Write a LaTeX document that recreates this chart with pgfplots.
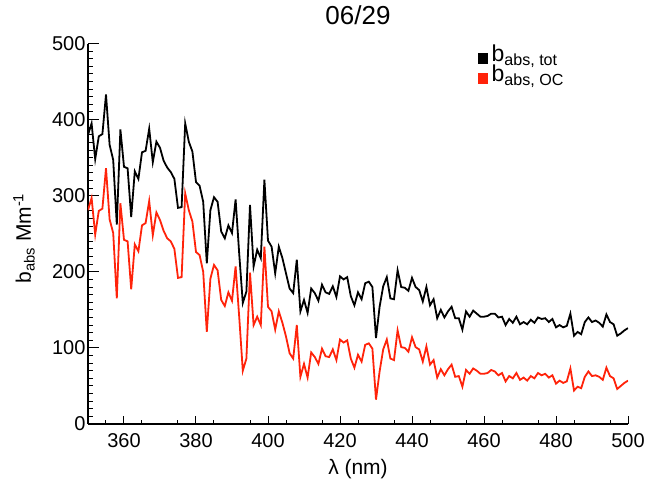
\documentclass[border=0pt]{standalone}
\usepackage{fontspec}
\setmainfont{Liberation Sans}
\usepackage{pgfplots}
\usepackage{pgfplotstable}
\pgfplotsset{compat=1.18}
\definecolor{idlred}{RGB}{255,35,10}
\pgfplotstableread{
x tot oc
350 380 281
351 395 297
352 348 249
353 378 280
354 381 283
355 433 336
356 367 269
357 347 251
358 262 165
359 387 290
360 338 242
361 336 240
362 272 177
363 332 236
364 322 227
365 357 261
366 359 264
367 388 293
368 344 248
369 371 278
370 363 268
371 346 254
372 337 244
373 331 240
374 322 230
375 284 192
376 285 193
377 395 303
378 371 281
379 358 266
380 318 226
381 313 222
382 292 200
383 211 121
384 281 191
385 298 209
386 292 202
387 253 163
388 244 155
389 261 173
390 251 162
391 295 207
392 224 141
393 159 70
394 174 86
395 288 199
396 207 130
397 229 141
398 218 130
399 321 233
400 241 154
401 233 148
402 198 124
403 233 148
404 218 133
405 198 115
406 178 93
407 172 86
408 216 130
409 148 62
410 163 79
411 146 61
412 178 94
413 172 88
414 162 79
415 183 99
416 173 89
417 171 88
418 181 98
419 167 84
420 194 111
421 190 107
422 193 110
423 168 86
424 156 74
425 173 91
426 164 82
427 185 104
428 187 106
429 180 99
430 113 32
431 154 69
432 181 98
433 193 111
434 165 86
435 164 84
436 202 123
437 180 101
438 179 100
439 175 95
440 192 114
441 180 101
442 176 98
443 161 82
444 180 102
445 156 78
446 164 84
447 139 61
448 150 72
449 140 64
450 148 72
451 154 78
452 139 62
453 139 63
454 124 49
455 148 71
456 141 66
457 149 73
458 145 70
459 141 66
460 141 66
461 142 67
462 145 71
463 145 69
464 140 64
465 141 67
466 130 56
467 138 63
468 133 60
469 141 67
470 131 58
471 134 61
472 131 57
473 137 63
474 133 60
475 140 67
476 138 64
477 139 66
478 134 61
479 138 64
480 127 53
481 130 57
482 127 54
483 129 56
484 145 73
485 116 44
486 121 49
487 118 47
488 134 62
489 140 69
490 134 63
491 136 64
492 133 62
493 128 58
494 144 74
495 134 63
496 131 60
497 116 46
498 119 50
499 123 54
500 126 57
}\datatable
\begin{document}
\begin{tikzpicture}
\useasboundingbox (-88pt,-55pt) rectangle (558pt,424pt);
\begin{axis}[
  at={(0pt,0pt)}, anchor=south west,
  scale only axis, width=540pt, height=380.5pt,
  xmin=350, xmax=500, ymin=0, ymax=500,
  axis lines*=left,
  axis line style={line width=1.2pt, black},
  tick align=inside,
  xtick={360,380,...,500}, ytick={0,100,...,500},
  minor xtick={355,365,...,495},
  minor ytick={10,20,...,490},
  xtick style={/pgfplots/major tick length=7.6pt, /pgfplots/minor tick length=3.8pt, line width=1pt, black},
  ytick style={/pgfplots/major tick length=10.8pt, /pgfplots/minor tick length=5.4pt, line width=1pt, black},
  /pgf/number format/assume math mode=true,
  /pgf/number format/1000 sep={},
  tick label style={font=\fontsize{20}{23}\selectfont},
  xticklabel style={anchor=base, yshift=-24pt},
  yticklabel style={xshift=1pt},
  title={06/29},
  title style={font=\fontsize{26}{30}\selectfont, at={(axis description cs:0.5,1)}, anchor=base, yshift=13.5pt},
  xlabel={λ (nm)},
  xlabel style={font=\fontsize{21}{24}\selectfont, at={(axis description cs:0.5,0)}, anchor=base, yshift=-51pt},
  ylabel={b\textsubscript{abs} Mm\textsuperscript{-1}},
  ylabel style={font=\fontsize{21}{24}\selectfont, at={([xshift=-57pt]axis description cs:0,0.4875)}, anchor=base},
  legend style={draw=none, fill=none, at={(axis description cs:0.722,1.0)}, anchor=north west,
    font=\fontsize{23}{25}\selectfont, inner sep=0pt, row sep=0pt,
    nodes={inner sep=1pt}},
  legend cell align=left,
  legend image code/.code={\path[draw=none,fill=none] (-1pt,-9pt) rectangle (11.5pt,0pt);\fill (0pt,-9pt) rectangle (8.5pt,0pt);},
]
\addplot[black, line width=1.8pt] table[x=x, y=tot] {\datatable};
\addlegendentry{b\textsubscript{abs, tot}}
\addplot[idlred, line width=1.8pt] table[x=x, y=oc] {\datatable};
\addlegendentry{b\textsubscript{abs, OC}}
\end{axis}
\end{tikzpicture}
\end{document}
